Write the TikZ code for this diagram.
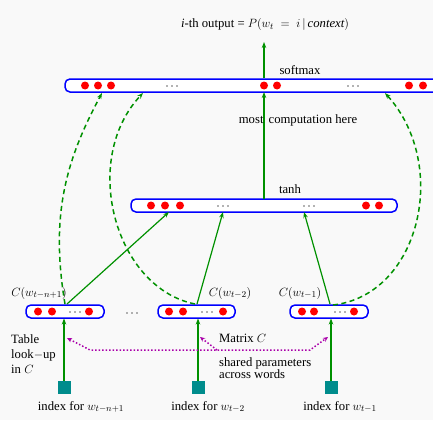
\documentclass[tikz,border=0pt]{standalone}
\usepackage{fontspec}
\setmainfont{Liberation Serif}
\usetikzlibrary{arrows.meta}
\definecolor{myblue}{RGB}{0,0,255}
\definecolor{myred}{RGB}{255,0,0}
\definecolor{mygreen}{RGB}{0,145,0}
\definecolor{myteal}{RGB}{0,140,140}
\definecolor{mypurple}{RGB}{170,0,170}
\definecolor{bgc}{RGB}{249,249,249}
\begin{document}
\begin{tikzpicture}[x=1pt,y=-1pt,
  bar/.style={draw=myblue, line width=1.5pt, rounded corners=5pt, fill=white, inner sep=0, minimum height=13pt},
  neuron/.style={circle, fill=myred, inner sep=0, minimum size=8pt},
  sarrow/.style={draw=mygreen, line width=1.2pt, -{Stealth[length=6pt,width=4.5pt]}},
  darrow/.style={draw=mygreen, line width=1.5pt, dash pattern=on 5pt off 3.5pt, -{Stealth[length=6pt,width=4.5pt]}},
  parrow/.style={draw=mypurple, line width=1.5pt, dash pattern=on 1.5pt off 2pt, {Stealth[length=5pt,width=4.5pt]}-{Stealth[length=5pt,width=4.5pt]}},
  parrowone/.style={draw=mypurple, line width=1.5pt, dash pattern=on 1.5pt off 2pt, -{Stealth[length=5pt,width=4.5pt]}},
  lbl/.style={font=\fontsize{12.7}{15}\selectfont, inner sep=0},
  idx/.style={fill=myteal, minimum size=13pt, inner sep=0},
]
\clip (0,0) rectangle (433,420);
\fill[bgc] (0,0) rectangle (433,420);
\newcommand\mydots[2]{\foreach \k in {-5,0,5} \fill[black!60] (#1+\k,#2) circle (0.8pt);}

% bars
\node[bar, minimum width=375pt] (soft) at (252.5,85.5) {};
\node[bar, minimum width=266pt] (tanh) at (264,205.5) {};
\node[bar, minimum width=78pt] (cb1) at (65,311.5) {};
\node[bar, minimum width=77pt] (cb2) at (196.5,311.5) {};
\node[bar, minimum width=78pt] (cb3) at (329,311.5) {};

% neurons
\foreach \x in {85,98,111,264,277,409,423,437} \node[neuron] (s\x) at (\x,85.5) {};
\mydots{172}{86}
\mydots{353}{86}
\foreach \x in {151,165,180,366,379} \node[neuron] (t\x) at (\x,205.5) {};
\mydots{223}{206}
\mydots{309}{206}
\foreach \x in {38,52,89} \node[neuron] (a\x) at (\x,311.5) {};
\mydots{75}{312}
\foreach \x in {169,183,223} \node[neuron] (b\x) at (\x,311.5) {};
\mydots{207}{312}
\foreach \x in {302,314,354} \node[neuron] (c\x) at (\x,311.5) {};
\mydots{340}{312}
\mydots{132}{313}

% index squares
\node[idx] (i1) at (64,387.5) {};
\node[idx] (i2) at (198,387.5) {};
\node[idx] (i3) at (331,387.5) {};

% coordinates
\coordinate (out) at (264,42);
\coordinate (sm) at (264,92);
\coordinate (tt) at (264,199);
\coordinate (tb1) at (169,212);
\coordinate (tb2) at (223,212);
\coordinate (tb3) at (304,212);
\coordinate (ct1) at (67,304);
\coordinate (ct2) at (197,304);
\coordinate (ct3) at (330,304);
\coordinate (d1s) at (65,304);
\coordinate (d1e) at (102,93);
\coordinate (d2s) at (195,304);
\coordinate (d2e) at (143,93);
\coordinate (d3s) at (333,305);
\coordinate (d3e) at (385,93);
\coordinate (cu1) at (64,318.5);
\coordinate (cu2) at (198,318.5);
\coordinate (cu3) at (331,318.5);
\coordinate (p1) at (67,338);
\coordinate (p2) at (90,350);
\coordinate (p3) at (310,350);
\coordinate (p4) at (328,337);
\coordinate (p5) at (217,350);
\coordinate (p6) at (200,337);

% solid arrows
\draw[sarrow] (soft.north -| out) -- (out);
\draw[sarrow] (tt) -- (sm);
\draw[sarrow] (ct1) -- (tb1);
\draw[sarrow] (ct2) -- (tb2);
\draw[sarrow] (ct3) -- (tb3);
\draw[sarrow] (i1.north) -- (cu1);
\draw[sarrow] (i2.north) -- (cu2);
\draw[sarrow] (i3.north) -- (cu3);

% dashed direct connections
\draw[darrow] (d1s) .. controls (50,215) and (66,160) .. (d1e);
\draw[darrow] (d2s) .. controls (115,288) and (80,160) .. (d2e);
\draw[darrow] (d3s) .. controls (420,295) and (450,165) .. (d3e);

% purple shared matrix
\draw[parrow] (p1) -- (p2) -- (p3) -- (p4);
\draw[parrowone] (p5) -- (p6);

% labels
\node[lbl] (title) at (265,25) {\textit{i}-th output = $P(w_t\;=\;i\,|\,\mathit{context})$};
\node[lbl] (lsoft) at (300,70) {softmax};
\node[lbl] (ltanh) at (290,189) {tanh};
\node[lbl] (lmost) at (298,120) {most\hspace{0.4em}computation here};
\node[lbl] (lc1) at (39,293) {$C(w_{t-n+1})$};
\node[lbl] (lc2) at (230,293) {$C(w_{t-2})$};
\node[lbl] (lc3) at (300,293) {$C(w_{t-1})$};
\node[lbl, anchor=west, align=left] (ltab) at (11,354) {Table\\look$-$up\\in $C$};
\node[lbl, anchor=west] (lmat) at (219,338) {Matrix $C$};
\node[lbl, anchor=west, align=left, font=\fontsize{12.7}{12.3}\selectfont] (lsh) at (219,368) {shared parameters\\across words};
\node[lbl] (ix1) at (81,407) {index for $w_{t-n+1}$};
\node[lbl] (ix2) at (208,407) {index for $w_{t-2}$};
\node[lbl] (ix3) at (340,407) {index for $w_{t-1}$};
\end{tikzpicture}
\end{document}
